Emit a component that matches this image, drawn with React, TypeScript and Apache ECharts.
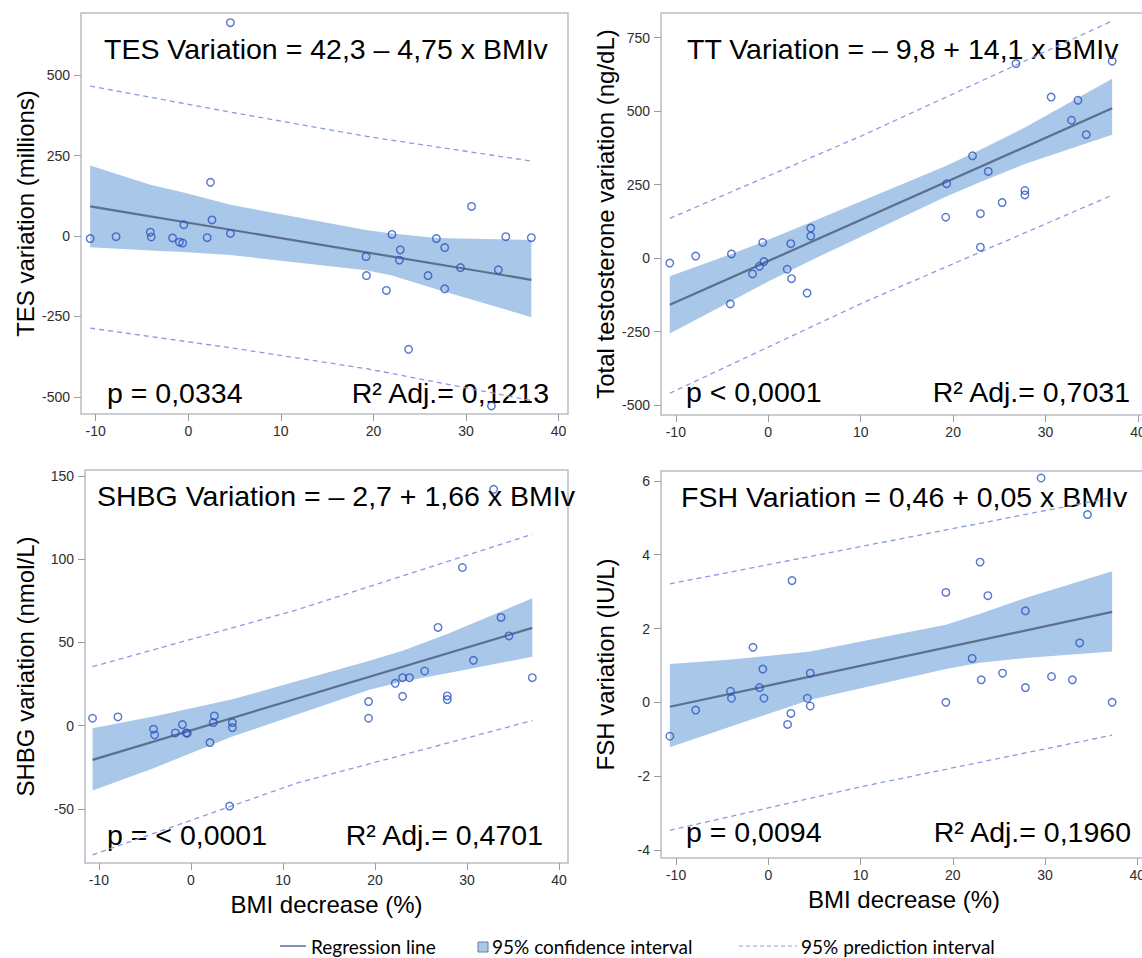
import React, { useEffect, useRef } from "react";
import * as echarts from "echarts";

// ---------- tick labels ----------
const xTicks = [-10, 0, 10, 20, 30, 40];
const tesTicks = [-500, -250, 0, 250, 500];
const ttTicks = [-500, -250, 0, 250, 500, 750];
const shbgTicks = [-50, 0, 50, 100, 150];
const fshTicks = [-4, -2, 0, 2, 4, 6];

// ---------- TES ----------
const tesX = [-10.6, -7.8, -4.1, -4.0, -1.7, -0.96, -0.6, -0.48, 2.04, 2.4, 2.56, 4.55, 4.55, 19.2, 19.25, 21.4, 22.0, 22.8, 22.9, 23.8, 25.9, 26.8, 27.7, 27.7, 29.4, 30.6, 32.75, 33.5, 34.3, 37.06];
const tesY = [-8, -2, 12, -3, -6, -19, -22, 35, -5, 167, 50, 663, 8, -64, -123, -169, 5, -75, -43, -352, -123, -8, -36, -164, -98, 92, -528, -105, -2, -5];
const tesCiX = [-10.6, -4.1, -0.5, 4.55, 19.2, 22.0, 26.8, 37.06];
const tesCiHi = [219, 159, 135, 97, 19, 8, -6, -12];
const tesCiLo = [-35, -45, -50, -59, -106, -123, -165, -252];
const tesLineX = [-10.6, 37.06];
const tesLineY = [92, -136];
const tesPiX = [-10.6, 4.55, 19.6, 37.06];
const tesPiHi = [466, 385, 308, 233];
const tesPiLo = [-286, -347, -414, -511];

// ---------- TT ----------
const ttX = [-10.65, -7.85, -4.1, -3.98, -1.7, -0.95, -0.6, -0.47, 2.05, 2.44, 2.52, 4.2, 4.6, 4.6, 19.2, 19.3, 22.1, 22.95, 22.95, 23.8, 25.3, 26.8, 27.76, 27.76, 30.6, 32.8, 33.5, 34.4, 37.2];
const ttY = [-17, 7, -156, 14, -54, -28, 53, -12, -38, 49, -70, -119, 102, 75, 139, 253, 348, 151, 37, 295, 189, 662, 230, 215, 548, 469, 537, 420, 670];
const ttCiX = [-10.65, -3.98, 0, 4.6, 19.2, 22.95, 27.76, 37.2];
const ttCiHi = [-62, 14, 62, 122, 313, 369, 444, 610];
const ttCiLo = [-257, -146, -80, -8, 209, 259, 320, 420];
const ttLineX = [-10.65, 37.2];
const ttLineY = [-159, 510];
const ttPiX = [-10.65, 10.1, 37.2];
const ttPiHi = [135, 416, 807];
const ttPiLo = [-460, -154, 214];

// ---------- SHBG ----------
const shbgX = [-10.7, -7.94, -4.07, -3.95, -1.7, -0.93, -0.52, -0.4, 2.06, 2.42, 2.54, 4.2, 4.5, 4.5, 19.3, 19.3, 22.2, 23.0, 23.0, 23.75, 25.4, 26.85, 27.86, 27.86, 29.5, 30.7, 32.9, 33.7, 34.56, 37.1];
const shbgY = [4.4, 5.2, -2.2, -5.6, -4.4, 0.6, -4.4, -4.6, -10.2, 1.8, 5.8, -48.4, 1.8, -1.2, 14.4, 4.4, 25.4, 28.8, 17.6, 28.8, 32.8, 59, 17.8, 15.6, 95, 39.2, 142, 65, 53.9, 28.8];
const shbgCiX = [-10.7, -4.07, 4.5, 19.3, 23.0, 27.86, 37.1];
const shbgCiHi = [-1.6, 5.4, 15.8, 38.8, 45, 55, 76.5];
const shbgCiLo = [-39, -25.6, -6.6, 21.4, 26.5, 31.5, 41.4];
const shbgLineX = [-10.7, 37.1];
const shbgLineY = [-20.6, 58.7];
const shbgPiX = [-10.7, 11.5, 37.1];
const shbgPiHi = [35.4, 69.5, 115];
const shbgPiLo = [-77.7, -34.6, 3];

// ---------- FSH ----------
const fshX = [-10.67, -7.87, -4.1, -3.99, -1.66, -0.95, -0.59, -0.47, 2.09, 2.45, 2.57, 4.23, 4.55, 4.55, 19.25, 19.25, 22.1, 22.96, 23.08, 23.8, 25.4, 27.87, 27.87, 29.57, 30.7, 32.96, 33.75, 34.6, 37.27];
const fshY = [-0.92, -0.21, 0.3, 0.11, 1.49, 0.4, 0.9, 0.11, -0.6, -0.3, 3.3, 0.11, 0.79, -0.1, 2.98, 0, 1.19, 3.8, 0.61, 2.89, 0.79, 2.48, 0.4, 6.08, 0.7, 0.61, 1.61, 5.09, 0];
const fshCiX = [-10.67, -3.99, 4.55, 19.25, 22.96, 27.87, 37.27];
const fshCiHi = [1.04, 1.16, 1.38, 2.1, 2.4, 2.83, 3.55];
const fshCiLo = [-1.22, -0.65, 0.07, 0.9, 1.07, 1.2, 1.38];
const fshLineX = [-10.67, 37.27];
const fshLineY = [-0.12, 2.45];
const fshPiX = [-10.67, 10.2, 37.27];
const fshPiHi = [3.21, 4.23, 5.55];
const fshPiLo = [-3.47, -2.28, -0.89];

// ---------- texts ----------
const yTitles = ["TES variation (millions)", "Total testosterone variation (ng/dL)", "SHBG variation (nmol/L)", "FSH variation (IU/L)"];
const equations = ["TES Variation = 42,3 – 4,75 x BMIv", "TT Variation = – 9,8 + 14,1 x BMIv", "SHBG Variation = – 2,7 + 1,66 x BMIv", "FSH Variation = 0,46 + 0,05 x BMIv"];
const pTexts = ["p = 0,0334", "p < 0,0001", "p = < 0,0001", "p = 0,0094"];
const r2Texts = ["R² Adj.= 0,1213", "R² Adj.= 0,7031", "R² Adj.= 0,4701", "R² Adj.= 0,1960"];
const xTitle = "BMI decrease (%)";
const legendLabels = ["Regression line", "95% confidence interval", "95% prediction interval"];

const FONT = "'Liberation Sans', Arial, sans-serif";
const BAND = "#a9c7e8";
const LINE = "#5d6f8e";
const PI = "#8b9be0";
const MARK = "#2b52c2";
const BORDER = "#b9bdc2";

function zip(a: number[], b: number[]) {
  return a.map((v, i) => [v, b[i]]);
}

function panelSeries(i: number, p: any) {
  return [
    {
      type: "custom",
      xAxisIndex: i,
      yAxisIndex: i,
      silent: true,
      z: 2,
      data: p.ciX.map((x: number, k: number) => [x, p.ciLo[k], p.ciHi[k]]),
      encode: { x: 0, y: [1, 2] },
      renderItem: (params: any, api: any) => {
        if (params.dataIndex !== 0) return null;
        const pts: number[][] = [];
        for (let k = 0; k < p.ciX.length; k++) pts.push(api.coord([p.ciX[k], p.ciHi[k]]));
        for (let k = p.ciX.length - 1; k >= 0; k--) pts.push(api.coord([p.ciX[k], p.ciLo[k]]));
        return { type: "polygon", shape: { points: pts }, style: { fill: BAND, stroke: null } };
      },
    },
    {
      type: "line",
      xAxisIndex: i,
      yAxisIndex: i,
      z: 3,
      symbol: "none",
      data: zip(p.piX, p.piHi),
      lineStyle: { color: PI, width: 1.3, type: [5, 4] },
    },
    {
      type: "line",
      xAxisIndex: i,
      yAxisIndex: i,
      z: 3,
      symbol: "none",
      data: zip(p.piX, p.piLo),
      lineStyle: { color: PI, width: 1.3, type: [5, 4] },
    },
    {
      type: "line",
      xAxisIndex: i,
      yAxisIndex: i,
      z: 4,
      symbol: "none",
      data: zip(p.lineX, p.lineY),
      lineStyle: { color: LINE, width: 2.2 },
    },
    {
      type: "scatter",
      xAxisIndex: i,
      yAxisIndex: i,
      z: 5,
      symbol: "circle",
      symbolSize: 7.5,
      data: zip(p.x, p.y),
      itemStyle: { color: "rgba(255,255,255,0)", borderColor: MARK, borderWidth: 1.4 },
    },
  ];
}

export default function App() {
  const ref = useRef<HTMLDivElement>(null);
  useEffect(() => {
    if (!ref.current) return;
    const chart = echarts.init(ref.current, null, { renderer: "svg" });

    const grids = [
      { left: 81, top: 13, width: 487, height: 401 },
      { left: 661, top: 13, width: 486, height: 402 },
      { left: 85, top: 470, width: 483, height: 393 },
      { left: 661, top: 471, width: 486, height: 387 },
    ].map((g) => ({
      ...g,
      show: true,
      borderColor: BORDER,
      borderWidth: 1.5,
      backgroundColor: "rgba(0,0,0,0)",
      containLabel: false,
      outerBoundsMode: "none",
    }));

    const xRanges = [
      [-11.59, 41.02],
      [-11.6, 40.97],
      [-11.52, 40.98],
      [-11.63, 41.05],
    ];
    const yRanges = [
      [-553, 693],
      [-534, 834],
      [-82.6, 153.6],
      [-4.22, 6.27],
    ];
    const yTickSets = [tesTicks, ttTicks, shbgTicks, fshTicks];
    const yGaps = [44, 44, 48, 44];

    const tickStyle = { color: "#9a9ea3", width: 1 };
    const labelStyle = { color: "#2e2e2e", fontSize: 14, fontFamily: FONT };

    const xAxis = [0, 1, 2, 3].map((i) => ({
      type: "value",
      gridIndex: i,
      min: xRanges[i][0],
      max: xRanges[i][1],
      axisLine: { show: false, onZero: false },
      splitLine: { show: false },
      axisTick: { show: true, length: 7, lineStyle: tickStyle, customValues: xTicks },
      axisLabel: { ...labelStyle, margin: 10, customValues: xTicks },
      name: i >= 2 ? xTitle : "",
      nameLocation: "middle",
      nameGap: 29,
      nameTextStyle: { fontSize: 24, fontFamily: FONT, color: "#000" },
    }));

    const yAxis = [0, 1, 2, 3].map((i) => ({
      type: "value",
      gridIndex: i,
      min: yRanges[i][0],
      max: yRanges[i][1],
      axisLine: { show: false, onZero: false },
      splitLine: { show: false },
      axisTick: { show: true, length: 7, lineStyle: tickStyle, customValues: yTickSets[i] },
      axisLabel: { ...labelStyle, margin: 11, customValues: yTickSets[i] },
      name: yTitles[i],
      nameLocation: "middle",
      nameRotate: 90,
      nameGap: yGaps[i],
      nameTextStyle: { fontSize: 24, fontFamily: FONT, color: "#000" },
    }));

    const panels = [
      { x: tesX, y: tesY, ciX: tesCiX, ciHi: tesCiHi, ciLo: tesCiLo, lineX: tesLineX, lineY: tesLineY, piX: tesPiX, piHi: tesPiHi, piLo: tesPiLo },
      { x: ttX, y: ttY, ciX: ttCiX, ciHi: ttCiHi, ciLo: ttCiLo, lineX: ttLineX, lineY: ttLineY, piX: ttPiX, piHi: ttPiHi, piLo: ttPiLo },
      { x: shbgX, y: shbgY, ciX: shbgCiX, ciHi: shbgCiHi, ciLo: shbgCiLo, lineX: shbgLineX, lineY: shbgLineY, piX: shbgPiX, piHi: shbgPiHi, piLo: shbgPiLo },
      { x: fshX, y: fshY, ciX: fshCiX, ciHi: fshCiHi, ciLo: fshCiLo, lineX: fshLineX, lineY: fshLineY, piX: fshPiX, piHi: fshPiHi, piLo: fshPiLo },
    ];

    const series: any[] = [];
    panels.forEach((p, i) => series.push(...panelSeries(i, p)));

    const eqPos = [
      [104, 49],
      [687, 49],
      [97, 496],
      [681, 497],
    ];
    const pPos = [
      [107, 393],
      [686, 392],
      [107, 835],
      [686, 832],
    ];
    const rPos = [
      [549, 393],
      [1130, 392],
      [543, 835],
      [1131, 832],
    ];

    const bigText = (text: string, x: number, y: number, align: string) => ({
      type: "text",
      x,
      y,
      z: 1,
      silent: true,
      style: { text, fontSize: 28.5, fontFamily: FONT, fill: "#000", align, verticalAlign: "middle" },
    });

    const graphics: any[] = [];
    for (let i = 0; i < 4; i++) {
      graphics.push(bigText(equations[i], eqPos[i][0], eqPos[i][1], "left"));
      graphics.push(bigText(pTexts[i], pPos[i][0], pPos[i][1], "left"));
      graphics.push(bigText(r2Texts[i], rPos[i][0], rPos[i][1], "right"));
    }

    const LEG_Y = 946;
    const legFont = "'Lato', 'Open Sans', sans-serif";
    const legText = (text: string, x: number) => ({
      type: "text",
      x,
      y: LEG_Y,
      z: 1,
      style: { text, fontSize: 19, fontFamily: legFont, fill: "#000", align: "left", verticalAlign: "middle" },
    });
    graphics.push({ type: "line", z: 1, shape: { x1: 280, y1: LEG_Y, x2: 306, y2: LEG_Y }, style: { stroke: "#7f91b1", lineWidth: 2 } });
    graphics.push(legText(legendLabels[0], 311));
    graphics.push({ type: "rect", z: 1, shape: { x: 478, y: LEG_Y - 4, width: 10, height: 10 }, style: { fill: BAND, stroke: "#6d7f9e", lineWidth: 1 } });
    graphics.push(legText(legendLabels[1], 492));
    graphics.push({ type: "line", z: 1, shape: { x1: 739, y1: LEG_Y, x2: 797, y2: LEG_Y }, style: { stroke: PI, lineWidth: 1.2, lineDash: [4, 3] } });
    graphics.push(legText(legendLabels[2], 801));

    chart.setOption({
      animation: false,
      backgroundColor: "#ffffff",
      grid: grids,
      xAxis,
      yAxis,
      series,
      graphic: graphics,
    });

    return () => chart.dispose();
  }, []);

  return <div ref={ref} style={{ position: "absolute", left: 0, top: 0, width: 1142, height: 958 }} />;
}
